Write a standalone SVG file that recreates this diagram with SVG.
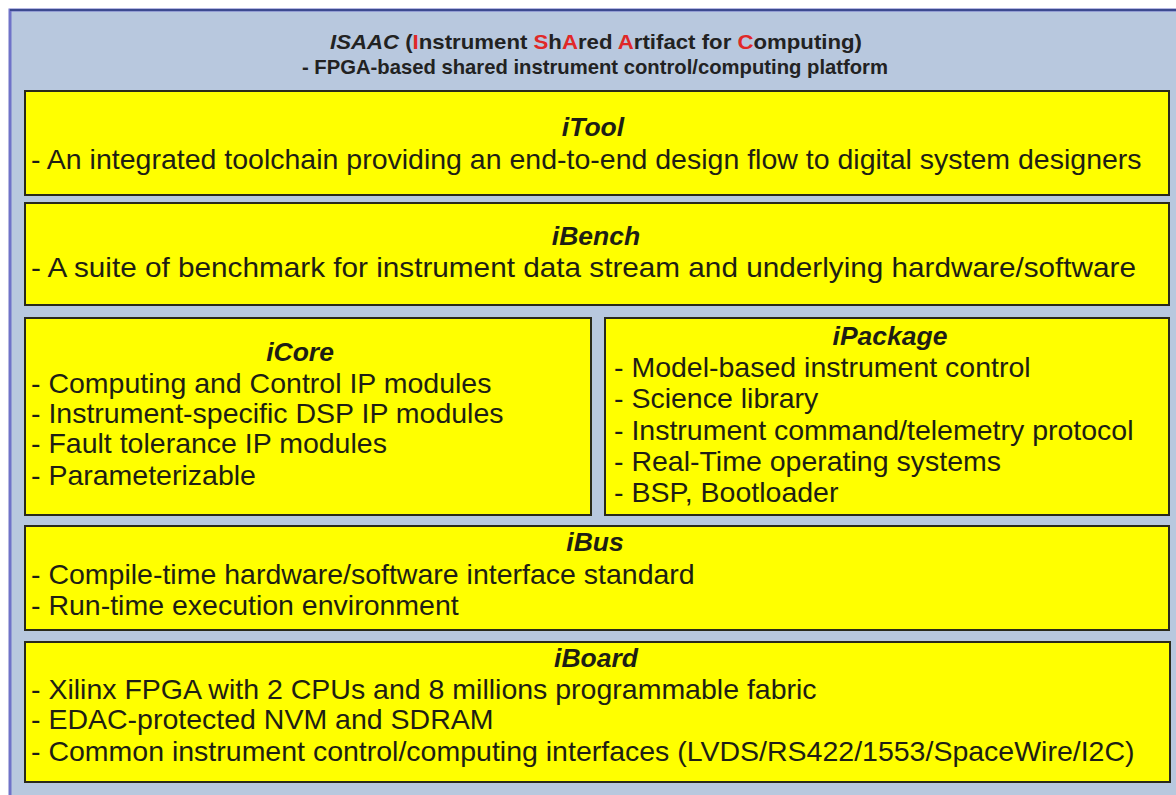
<svg xmlns="http://www.w3.org/2000/svg" width="1176" height="795" viewBox="0 0 1176 795">
<style>
.box{fill:#ffff00;stroke:#2a2a1a;stroke-width:2}
.t{font-family:"Liberation Sans",Arial,sans-serif;font-size:28.5px;fill:#1e1e14}
.h{font-weight:bold;font-style:italic;text-anchor:middle;font-size:26.5px}
.ti{font-family:"Liberation Sans",Arial,sans-serif;font-size:21px;font-weight:bold;fill:#222;text-anchor:middle}
.r{fill:#e02828}
</style>
<rect x="0" y="0" width="1176" height="795" fill="#ffffff"/>
<rect x="10" y="10" width="1170" height="790" fill="#b8c8de" stroke="#6f72c8" stroke-width="3"/>
<line x1="10" y1="10" x2="1176" y2="10" stroke="#3c4a90" stroke-width="2"/>
<g id="title">
<text class="ti" x="596" y="49" textLength="532" lengthAdjust="spacingAndGlyphs"><tspan font-style="italic">ISAAC</tspan> (<tspan class="r">I</tspan>nstrument <tspan class="r">S</tspan>h<tspan class="r">A</tspan>red <tspan class="r">A</tspan>rtifact for <tspan class="r">C</tspan>omputing)</text>
<text class="ti" x="595" y="74" textLength="586" lengthAdjust="spacingAndGlyphs">- FPGA-based shared instrument control/computing platform</text>
</g>
<g id="iTool">
<rect class="box" x="25" y="91" width="1144" height="104"/>
<text class="t h" x="593" y="136">iTool</text>
<text class="t" x="31" y="169">- An integrated toolchain providing an end-to-end design flow to digital system designers</text>
</g>
<g id="iBench">
<rect class="box" x="25" y="203" width="1144" height="102"/>
<text class="t h" x="596" y="245">iBench</text>
<text class="t" x="31" y="277" textLength="1105" lengthAdjust="spacingAndGlyphs">- A suite of benchmark for instrument data stream and underlying hardware/software</text>
</g>
<g id="iCore">
<rect class="box" x="25" y="318" width="566" height="197"/>
<text class="t h" x="300" y="361">iCore</text>
<text class="t" x="31" y="393">- Computing and Control IP modules</text>
<text class="t" x="31" y="423">- Instrument-specific DSP IP modules</text>
<text class="t" x="31" y="453">- Fault tolerance IP modules</text>
<text class="t" x="31" y="485">- Parameterizable</text>
</g>
<g id="iPackage">
<rect class="box" x="605" y="318" width="564" height="197"/>
<text class="t h" x="890" y="345">iPackage</text>
<text class="t" x="614" y="377">- Model-based instrument control</text>
<text class="t" x="614" y="408">- Science library</text>
<text class="t" x="614" y="440">- Instrument command/telemetry protocol</text>
<text class="t" x="614" y="471">- Real-Time operating systems</text>
<text class="t" x="614" y="502">- BSP, Bootloader</text>
</g>
<g id="iBus">
<rect class="box" x="25" y="526" width="1144" height="104"/>
<text class="t h" x="595" y="551">iBus</text>
<text class="t" x="31" y="584">- Compile-time hardware/software interface standard</text>
<text class="t" x="31" y="615">- Run-time execution environment</text>
</g>
<g id="iBoard">
<rect class="box" x="25" y="642" width="1145" height="140"/>
<text class="t h" x="596" y="667">iBoard</text>
<text class="t" x="31" y="699">- Xilinx FPGA with 2 CPUs and 8 millions programmable fabric</text>
<text class="t" x="31" y="729">- EDAC-protected NVM and SDRAM</text>
<text class="t" x="31" y="761">- Common instrument control/computing interfaces (LVDS/RS422/1553/SpaceWire/I2C)</text>
</g>
<g id="connectors"/>
</svg>
